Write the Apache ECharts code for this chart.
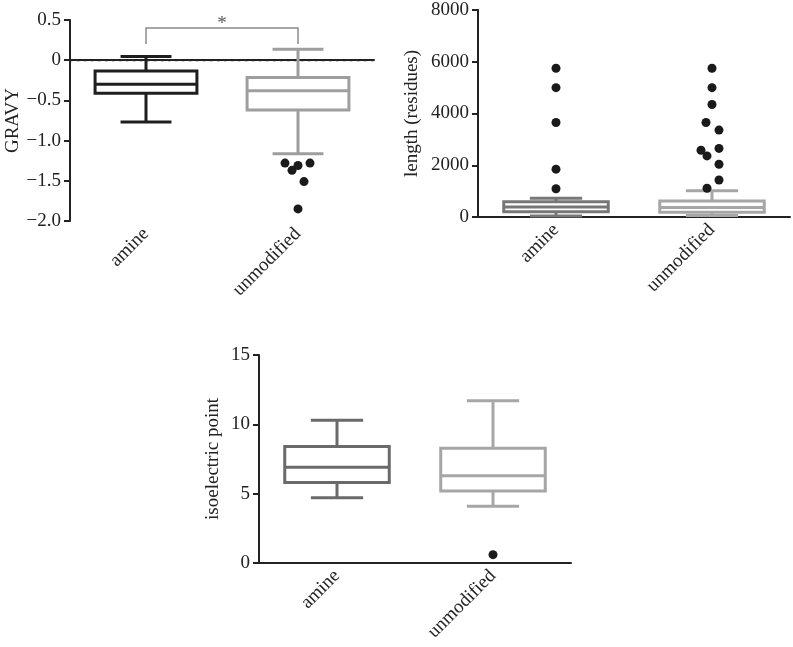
<!DOCTYPE html>
<html><head><meta charset="utf-8">
<script src="https://cdn.jsdelivr.net/npm/echarts@6/dist/echarts.min.js"></script>
<style>html,body{margin:0;padding:0;background:#fff}#c{width:793px;height:647px}</style>
</head><body><div id="c"></div>
<script>
// ---------- data ----------
const categories = ['amine', 'unmodified'];

// box statistics: [lower whisker, Q1, median, Q3, upper whisker]
const gravyAmine = [-0.77, -0.41, -0.30, -0.135, 0.045];
const gravyUnmodified = [-1.165, -0.62, -0.38, -0.215, 0.135];
const gravyOutliersUnmodified = [-1.28, -1.31, -1.37, -1.28, -1.51, -1.85];
const gravyTicks = [-2.0, -1.5, -1.0, -0.5, 0, 0.5];
const gravyRefLine = [0];

const lengthAmine = [40, 205, 386, 591, 722];
const lengthUnmodified = [60, 180, 367, 618, 1017];
const lengthOutliersAmine = [5750, 5000, 3650, 1850, 1090];
const lengthOutliersUnmodified = [5750, 5000, 4350, 3650, 3360, 2580, 2360, 2650, 2040, 1430, 1110];
const lengthTicks = [0, 2000, 4000, 6000, 8000];

const piAmine = [4.7, 5.8, 6.9, 8.4, 10.3];
const piUnmodified = [4.1, 5.2, 6.3, 8.27, 11.7];
const piOutliersUnmodified = [0.6];
const piTicks = [0, 5, 10, 15];

// significance bracket: between categories, top level, leg bottom, label
const sigFrom = 0, sigTo = 1, sigTop = 0.4, sigLegBottom = 0.2, sigLabel = '*';

// ---------- style ----------
const FONT = "'Liberation Serif', 'Times New Roman', Times, serif";
const FS = 19;
const TXT = '#222';
const gravyColors = ['#1e1e1e', '#9e9e9e'];
const lengthColors = ['#777777', '#a6a6a6'];
const piColors = ['#6a6a6a', '#a6a6a6'];
// horizontal jitter (pixels) of outlier dots
const gravyJitter = [-13, 0, -6, 12, 6, 0];
const lengthJitterAmine = [0, 0, 0, 0, 0];
const lengthJitterUnmodified = [0, 0, 0, -6, 7, -11, -5, 7, 7, 7, -5];
const piJitter = [0];

function boxRender(colors) {
  return function (params, api) {
    const ci = api.value(0);
    const low = api.value(1), q1 = api.value(2), med = api.value(3), q3 = api.value(4), high = api.value(5);
    const band = api.size([1, 0])[0];
    const bw = band * 0.67, cw = bw / 2;
    const x = api.coord([ci, med])[0];
    const y = v => api.coord([ci, v])[1];
    const st = { stroke: colors[ci], fill: '#fff', lineWidth: 3 };
    const ln = { stroke: colors[ci], lineWidth: 3 };
    return { type: 'group', children: [
      { type: 'line', shape: { x1: x, y1: y(high), x2: x, y2: y(q3) }, style: ln },
      { type: 'line', shape: { x1: x, y1: y(q1), x2: x, y2: y(low) }, style: ln },
      { type: 'line', shape: { x1: x - cw / 2, y1: y(high), x2: x + cw / 2, y2: y(high) }, style: ln },
      { type: 'line', shape: { x1: x - cw / 2, y1: y(low), x2: x + cw / 2, y2: y(low) }, style: ln },
      { type: 'rect', shape: { x: x - bw / 2, y: y(q3), width: bw, height: y(q1) - y(q3) }, style: st },
      { type: 'line', shape: { x1: x - bw / 2, y1: y(med), x2: x + bw / 2, y2: y(med) }, style: ln }
    ] };
  };
}

function boxSeries(idx, stats, colors) {
  return {
    type: 'custom', xAxisIndex: idx, yAxisIndex: idx, z: 3,
    renderItem: boxRender(colors),
    encode: { x: 0, y: [1, 2, 3, 4, 5] },
    data: stats.map((s, i) => [i].concat(s))
  };
}

function outlierSeries(idx, ci, vals, jitter) {
  return {
    type: 'scatter', xAxisIndex: idx, yAxisIndex: idx, z: 4,
    symbolSize: 9, itemStyle: { color: '#1a1a1a', opacity: 1 },
    data: vals.map((v, k) => ({ value: [ci, v], symbolOffset: [jitter[k], 0] }))
  };
}

function xAxis(idx) {
  return {
    type: 'category', gridIndex: idx, data: categories, boundaryGap: true,
    axisLine: { lineStyle: { color: TXT, width: 2 } },
    axisTick: { alignWithLabel: true, length: 6, lineStyle: { color: TXT, width: 2 } },
    axisLabel: { rotate: 45, margin: 10, color: TXT, fontFamily: FONT, fontSize: FS },
    splitLine: { show: false }
  };
}

function yAxis(idx, ticks, name, gap, fmt) {
  return {
    type: 'value', gridIndex: idx, min: ticks[0], max: ticks[ticks.length - 1],
    interval: ticks[1] - ticks[0],
    name: name, nameLocation: 'middle', nameGap: gap,
    nameTextStyle: { color: TXT, fontFamily: FONT, fontSize: FS },
    axisLine: { show: true, lineStyle: { color: TXT, width: 2 } },
    axisTick: { show: true, length: 6, lineStyle: { color: TXT, width: 2 } },
    axisLabel: { margin: 9, color: TXT, fontFamily: FONT, fontSize: FS, formatter: fmt },
    splitLine: { show: false }
  };
}

const gravyFmt = v => (v === 0 ? '0' : v.toFixed(1).replace('-', '\u2212'));
const plainFmt = v => String(v);

const chart = echarts.init(document.getElementById('c'));
chart.setOption({
  animation: false,
  backgroundColor: '#fff',
  grid: [
    { left: 70, top: 20, width: 304, height: 201, outerBoundsMode: 'none' },
    { left: 478, top: 10, width: 312, height: 207, outerBoundsMode: 'none' },
    { left: 259, top: 355, width: 312, height: 208, outerBoundsMode: 'none' }
  ],
  xAxis: [xAxis(0), xAxis(1), xAxis(2)],
  yAxis: [
    yAxis(0, gravyTicks, 'GRAVY', 47, gravyFmt),
    yAxis(1, lengthTicks, 'length (residues)', 56, plainFmt),
    yAxis(2, piTicks, 'isoelectric point', 36, plainFmt)
  ],
  series: [
    {
      type: 'custom', xAxisIndex: 0, yAxisIndex: 0, z: 2,
      data: gravyRefLine.map(v => [0, v]),
      encode: { x: 0, y: 1 },
      renderItem: function (params, api) {
        const cs = params.coordSys;
        const y = api.coord([0, api.value(1)])[1];
        return { type: 'line', shape: { x1: cs.x, y1: y, x2: cs.x + cs.width, y2: y },
          style: { stroke: '#222', lineWidth: 2, lineDash: [2.5, 4.5] } };
      }
    },
    boxSeries(0, [gravyAmine, gravyUnmodified], gravyColors),
    outlierSeries(0, 1, gravyOutliersUnmodified, gravyJitter),
    {
      type: 'custom', xAxisIndex: 0, yAxisIndex: 0, z: 5,
      data: [[sigFrom, sigTo, sigTop, sigLegBottom]],
      encode: { x: [0, 1], y: [2, 3] },
      renderItem: function (params, api) {
        const a = api.coord([api.value(0), api.value(2)]);
        const b = api.coord([api.value(1), api.value(2)]);
        const yb = api.coord([api.value(0), api.value(3)])[1];
        return { type: 'group', children: [
          { type: 'polyline', shape: { points: [[a[0], yb], a, b, [b[0], yb]] },
            style: { stroke: '#8a8a8a', lineWidth: 1.5, fill: null } },
          { type: 'text', style: { x: (a[0] + b[0]) / 2, y: a[1] + 5, text: sigLabel,
            fill: '#555', font: FS + 'px ' + FONT, align: 'center', verticalAlign: 'bottom' } }
        ] };
      }
    },
    boxSeries(1, [lengthAmine, lengthUnmodified], lengthColors),
    outlierSeries(1, 0, lengthOutliersAmine, lengthJitterAmine),
    outlierSeries(1, 1, lengthOutliersUnmodified, lengthJitterUnmodified),
    boxSeries(2, [piAmine, piUnmodified], piColors),
    outlierSeries(2, 1, piOutliersUnmodified, piJitter)
  ]
});
</script>
</body></html>
